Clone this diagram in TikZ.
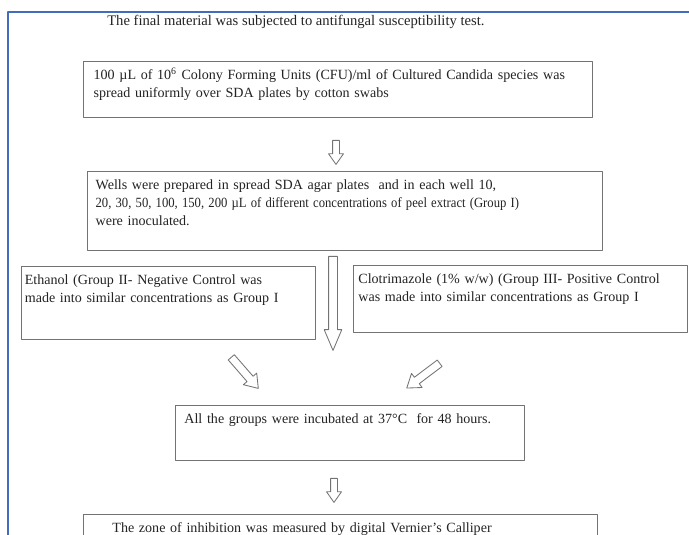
\documentclass[tikz,border=0pt]{standalone}
\usepackage{fontspec}
\setmainfont{Liberation Serif}
\usetikzlibrary{shapes.arrows}
\definecolor{framecol}{RGB}{68,108,190}
\definecolor{boxcol}{RGB}{115,115,115}
\definecolor{txtcol}{RGB}{35,35,35}

\begin{document}
\begin{tikzpicture}[line cap=round,line join=round,
  font=\fontsize{10}{12.8}\selectfont, text=txtcol,
  flowbox/.style={draw=boxcol, line width=0.9pt, anchor=north west, align=left,
    inner xsep=0.25cm, inner ysep=0.2cm, text height=7pt},
  hollow/.style={single arrow, draw=boxcol, fill=white, line width=0.6pt,
    inner xsep=0pt, anchor=tail},
  smallarr/.style={hollow, inner ysep=0.075cm, single arrow head extend=0.1cm,
    single arrow tip angle=70, minimum height=0.6cm},
  bigarr/.style={hollow, inner ysep=0.1cm, single arrow head extend=0.11cm,
    single arrow tip angle=46, minimum height=2.35cm},
  diagarr/.style={hollow, inner ysep=0.09cm, single arrow head extend=0.12cm,
    single arrow tip angle=70, minimum height=1.03cm}]
  \useasboundingbox (0,0) rectangle (17.225,-13.375);
  \draw[framecol, line width=1.1pt] (17.5,-0.3) -- (0.2,-0.3) -- (0.2,-13.6);

  \node[anchor=west, inner sep=0pt, font=\fontsize{10.4}{12.8}\selectfont] (title) at (2.675,-0.55)
    {The final material was subjected to antifungal susceptibility test.};

  \node[flowbox, text width=12.225cm, text depth=0.753cm] (culture) at (2.075,-1.525)
    {100 µL of 10\textsuperscript{6} Colony Forming Units (CFU)/ml of Cultured Candida species was\\
     spread uniformly over SDA plates by cotton swabs};
  \node[smallarr, rotate=-90] (arr1) at (8.4,-3.5) {};

  \node[flowbox, inner xsep=0.2cm, text width=12.475cm, text depth=1.328cm] (wells) at (2.175,-4.275)
    {Wells were prepared in spread SDA agar plates\ \ and in each well 10,\\
     \scalebox{0.9}[1]{20, 30, 50, 100, 150, 200 µL of different concentrations of peel extract (Group I)}\\
     were inoculated.};

  \node[flowbox, inner xsep=0.08cm, text width=7.19cm, text depth=1.178cm] (ethanol) at (0.525,-6.65)
    {Ethanol (Group II- Negative Control was\\
     made into similar concentrations as Group I};
  \node[flowbox, inner xsep=0.12cm, text width=8.11cm, text depth=1.028cm] (clotri) at (8.825,-6.625)
    {Clotrimazole (1\% w/w) (Group III- Positive Control\\
     was made into similar concentrations as Group I};
  \node[bigarr, rotate=-90] (arr2) at (8.325,-6.4) {};
  \node[diagarr, rotate=-49] (arr3) at (5.775,-8.925) {};
  \node[diagarr, rotate=-143] (arr4) at (11.0,-9.075) {};

  \node[flowbox, inner xsep=0.22cm, text width=8.285cm, text depth=0.728cm] (incub) at (4.375,-10.125)
    {All the groups were incubated at 37°C\ \ for 48 hours.};
  \node[smallarr, rotate=-90] (arr5) at (8.35,-11.95) {};

  \node[flowbox, inner xsep=0.72cm, text width=11.41cm, text depth=0.853cm] (zone) at (2.075,-12.85)
    {The zone of inhibition was measured by digital Vernier’s Calliper};
\end{tikzpicture}
\end{document}
